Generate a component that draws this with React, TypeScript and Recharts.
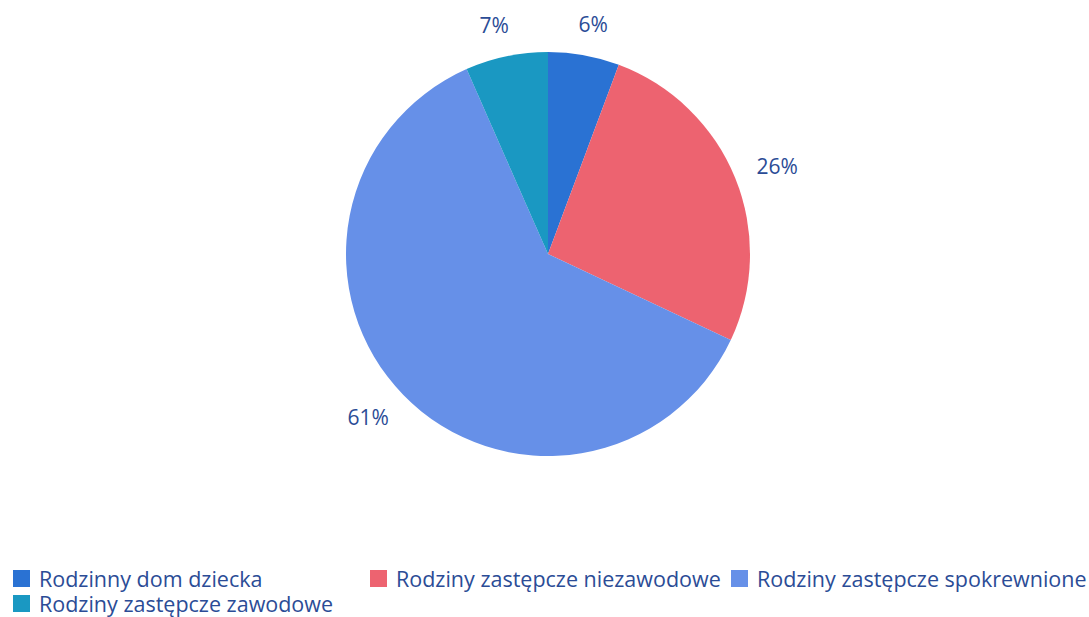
import { PieChart, Pie, Cell, Legend } from 'recharts';

const categories = [
  'Rodzinny dom dziecka',
  'Rodziny zastępcze niezawodowe',
  'Rodziny zastępcze spokrewnione',
  'Rodziny zastępcze zawodowe',
];
const shares = [5.7, 26.3, 61.4, 6.6];
const colors = ['#2a72d3', '#ed6370', '#6690e8', '#1a98c2'];

const data = categories.map((name, i) => ({ name, value: shares[i] }));

const TEXT = '#2b4c96';
const FONT = '"Open Sans", sans-serif';
const RAD = Math.PI / 180;

// label box pushed outward so its edge sits just outside the rim
function renderLabel(props: any) {
  const { cx, cy, midAngle, outerRadius, percent } = props;
  const ux = Math.cos(-midAngle * RAD);
  const uy = Math.sin(-midAngle * RAD);
  const text = `${Math.round(percent * 100)}%`;
  const w = text.length * 13.5;
  const h = 20;
  const r = outerRadius + 22;
  let x = cx + r * ux + (ux * w) / 2;
  x += ux < 0 ? -5 : 3;
  const y = cy + r * uy + (uy * h) / 2;
  return (
    <text
      x={x}
      y={y}
      fill={TEXT}
      fontFamily={FONT}
      fontSize={21}
      textAnchor="middle"
      dominantBaseline="central"
    >
      {text}
    </text>
  );
}

// legend laid out as a 3-column grid, row by row
function renderLegend() {
  return (
    <div
      style={{
        display: 'grid',
        gridTemplateColumns: '357px 361px auto',
        fontFamily: FONT,
        fontSize: 21.5,
        color: TEXT,
        lineHeight: '25px',
      }}
    >
      {data.map((d, i) => (
        <div key={d.name} style={{ display: 'flex', alignItems: 'center', whiteSpace: 'nowrap' }}>
          <span
            style={{
              display: 'inline-block',
              width: 17,
              height: 17,
              background: colors[i],
              marginRight: 9,
            }}
          />
          {d.name}
        </div>
      ))}
    </div>
  );
}

export default function App() {
  return (
    <div style={{ position: 'absolute', left: 0, top: 0, width: 1089, height: 617, background: '#fff' }}>
      <PieChart width={1089} height={617} margin={{ top: 0, right: 0, bottom: 0, left: 0 }}>
        <Pie
          data={data}
          dataKey="value"
          nameKey="name"
          cx={548}
          cy={254}
          outerRadius={202}
          startAngle={90}
          endAngle={-270}
          stroke="none"
          label={renderLabel}
          labelLine={false}
          isAnimationActive={false}
        >
          {data.map((d, i) => (
            <Cell key={d.name} fill={colors[i]} />
          ))}
        </Pie>
        <Legend
          content={renderLegend}
          wrapperStyle={{ left: 13, top: 566, width: 1076 }}
        />
      </PieChart>
    </div>
  );
}
